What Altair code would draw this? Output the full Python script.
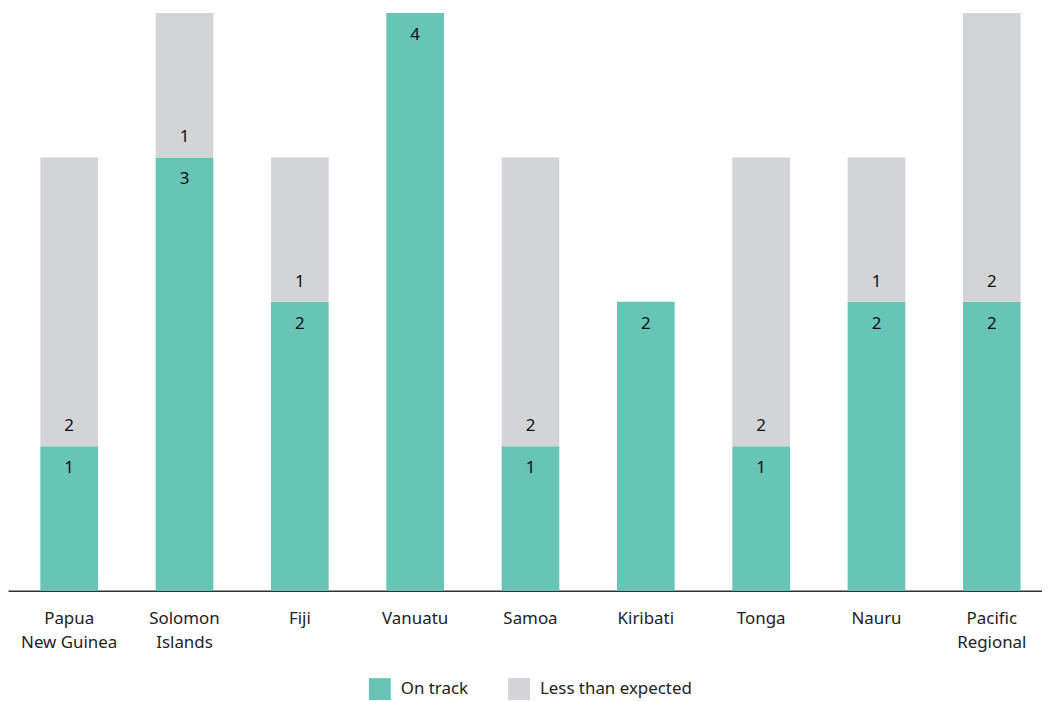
import altair as alt
import pandas as pd

countries = ["Papua New Guinea", "Solomon Islands", "Fiji", "Vanuatu", "Samoa",
             "Kiribati", "Tonga", "Nauru", "Pacific Regional"]
on_track = [1, 3, 2, 4, 1, 2, 1, 2, 2]
less_than_expected = [2, 1, 1, 0, 2, 0, 2, 1, 2]
statuses = ["On track", "Less than expected"]
colors = ["#66c5b5", "#d3d4d6"]

rows = []
for c, a, b in zip(countries, on_track, less_than_expected):
    rows.append({"country": c, "status": "On track", "value": a, "order": 0,
                 "start": 0, "end": a})
    rows.append({"country": c, "status": "Less than expected", "value": b, "order": 1,
                 "start": a, "end": a + b})
df = pd.DataFrame(rows)

label_expr = "split(datum.value === 'Papua New Guinea' ? 'Papua|New Guinea' : datum.value === 'Solomon Islands' ? 'Solomon|Islands' : datum.value === 'Pacific Regional' ? 'Pacific|Regional' : datum.value, '|')"

FONT = "Noto Sans"

xscale = alt.Scale(domain=countries, paddingInner=0.5, paddingOuter=0.2328, align=0.602)
yscale = alt.Scale(domain=[0, 4], nice=False, zero=True)

xaxis = alt.Axis(title=None, labelExpr=label_expr, labelAngle=0,
                 labelFontSize=17, labelColor="#222222", labelFont=FONT,
                 labelPadding=20, labelLineHeight=24, ticks=False, grid=False,
                 domainColor="#333333", domainWidth=1.5, labelBaseline="top")

base = alt.Chart(df)

bars = base.mark_bar().encode(
    x=alt.X("country:N", sort=countries, scale=xscale, axis=xaxis),
    y=alt.Y("start:Q", scale=yscale, axis=None),
    y2="end:Q",
    color=alt.Color("status:N", scale=alt.Scale(domain=statuses, range=colors),
                    legend=alt.Legend(title=None, orient="none", direction="horizontal",
                                      legendX=363, legendY=669,
                                      symbolType="square", symbolSize=484,
                                      symbolStrokeWidth=0, labelFontSize=17,
                                      labelFont=FONT, labelColor="#222222",
                                      labelOffset=10, columnPadding=40,
                                      symbolOpacity=1)),
)

on_lbl = base.transform_filter("datum.status === 'On track' && datum.value > 0").mark_text(
    dy=22, fontSize=17, font=FONT, color="#111111", baseline="middle"
).encode(
    x=alt.X("country:N", sort=countries, scale=xscale, axis=xaxis),
    y=alt.Y("end:Q", scale=yscale, axis=None),
    text="value:Q",
)

less_lbl = base.transform_filter("datum.status === 'Less than expected' && datum.value > 0").mark_text(
    dy=-20, fontSize=17, font=FONT, color="#111111", baseline="middle"
).encode(
    x=alt.X("country:N", sort=countries, scale=xscale, axis=xaxis),
    y=alt.Y("start:Q", scale=yscale, axis=None),
    text="value:Q",
)

chart = alt.layer(bars, on_lbl, less_lbl).properties(
    width=1040, height=581,
    background="white",
    autosize=alt.AutoSizeParams(type="none"),
    padding={"left": 0, "top": 3, "right": 0, "bottom": 110},
).configure_view(strokeWidth=0, stroke="transparent")

chart.save("out.html", embed_options={"renderer": "svg", "actions": False})
